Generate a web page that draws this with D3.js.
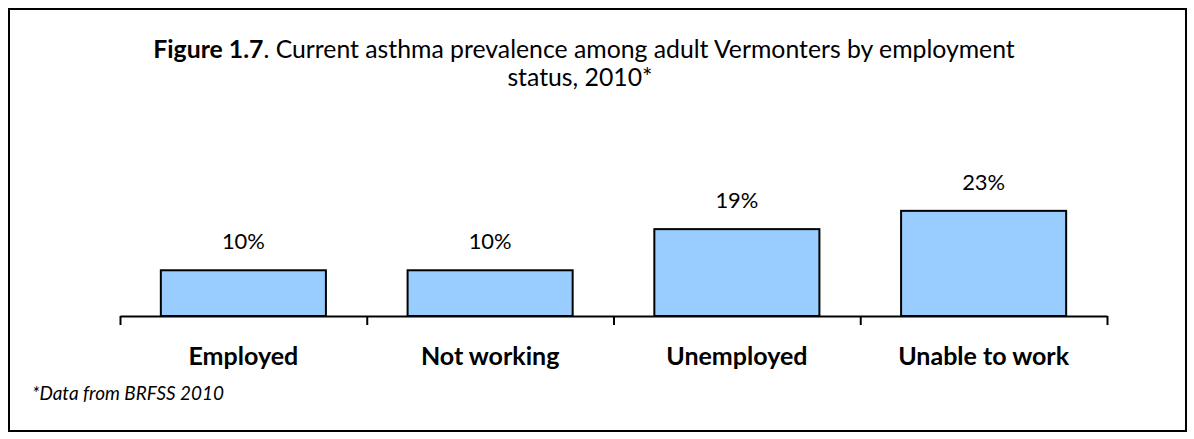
<!DOCTYPE html>
<html>
<head>
<meta charset="utf-8">
<script src="https://cdn.jsdelivr.net/npm/d3@7"></script>
<style>
  html, body { margin: 0; padding: 0; background: #fff; }
  svg { display: block; }
  text { font-family: Lato, "Open Sans", sans-serif; fill: #000; }
</style>
</head>
<body>
<svg id="chart" width="1194" height="439"></svg>
<script>
const categories = ["Employed", "Not working", "Unemployed", "Unable to work"];
const values = [10, 10, 19, 23];
const valueLabels = ["10%", "10%", "19%", "23%"];
const titleBold = "Figure 1.7";
const titleRest = ". Current asthma prevalence among adult Vermonters by employment";
const titleLine2 = "status, 2010*";
const footnote = "*Data from BRFSS 2010";

const svg = d3.select("#chart");

// frame
svg.append("rect").attr("x", 9).attr("y", 9).attr("width", 1177).attr("height", 422)
  .attr("fill", "none").attr("stroke", "#000").attr("stroke-width", 2);

const left = 120, right = 1107, baseY = 316;
const x = d3.scaleBand().domain(categories).range([left, right]).paddingInner(0.331).paddingOuter(0.1655);
const y = d3.scaleLinear().domain([0, 25]).range([baseY, baseY - 114.3]);

// fit helper
function fitSize(sel, target) {
  sel.attr("font-size", 20);
  const w = sel.node().getComputedTextLength();
  const s = 20 * target / w;
  sel.attr("font-size", s);
  return s;
}

// title
const t1 = svg.append("text").attr("x", 584).attr("y", 58).attr("text-anchor", "middle");
t1.append("tspan").attr("font-weight", "bold").text(titleBold);
t1.append("tspan").text(titleRest);
const ts = fitSize(t1, 862);
svg.append("text").attr("x", 580).attr("y", 86).attr("text-anchor", "middle")
  .attr("font-size", ts).text(titleLine2);

// bars
svg.append("g").selectAll("rect").data(categories).join("rect")
  .attr("x", d => x(d))
  .attr("y", (d, i) => y(values[i]))
  .attr("width", x.bandwidth())
  .attr("height", (d, i) => y(0) - y(values[i]))
  .attr("fill", "#99CCFF").attr("stroke", "#000").attr("stroke-width", 2);

// value labels
const vl = svg.append("g").selectAll("text").data(categories).join("text")
  .attr("x", d => x(d) + x.bandwidth() / 2)
  .attr("y", (d, i) => y(values[i]) - 21)
  .attr("text-anchor", "middle")
  .text((d, i) => valueLabels[i]);
const vs = fitSize(d3.select(vl.nodes()[0]), 43);
vl.attr("font-size", vs);

// axis with boundary ticks
const xi = d3.scaleLinear().domain([0, categories.length]).range([left, right]);
const ax = svg.append("g").attr("transform", `translate(0,${baseY})`)
  .call(d3.axisBottom(xi).tickValues(d3.range(categories.length + 1)).tickSizeInner(9).tickSizeOuter(0).tickFormat(""));
ax.selectAll("path, line").attr("stroke", "#000").attr("stroke-width", 2);

// category labels
const cl = svg.append("g").selectAll("text").data(categories).join("text")
  .attr("x", d => x(d) + x.bandwidth() / 2)
  .attr("y", 365)
  .attr("text-anchor", "middle")
  .attr("font-weight", "bold")
  .text(d => d);
const cs = fitSize(d3.select(cl.nodes()[3]), 171);
cl.attr("font-size", cs);

// footnote
const fn = svg.append("text").attr("x", 32).attr("y", 400)
  .attr("font-style", "italic").text(footnote);
fitSize(fn, 192);
</script>
</body>
</html>
